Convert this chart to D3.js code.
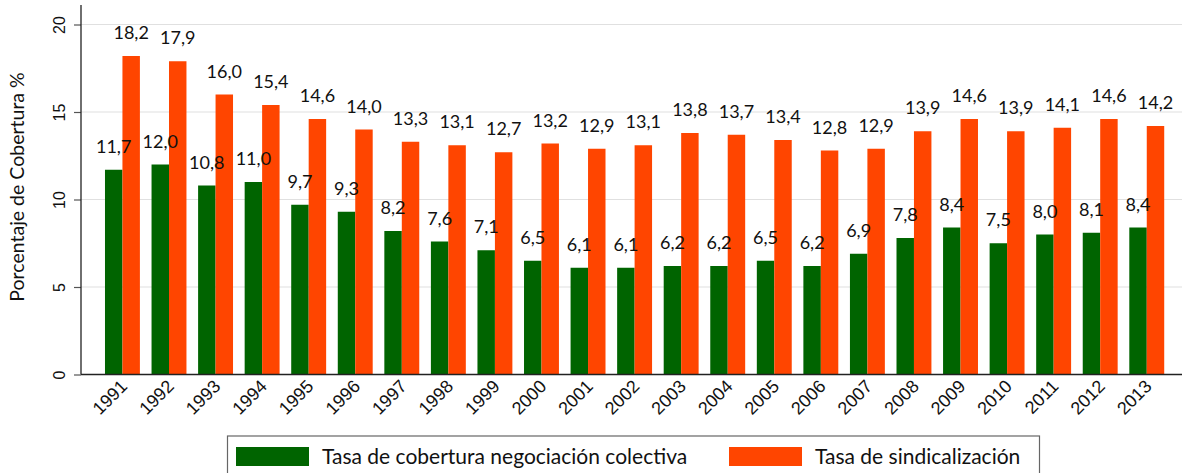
<!DOCTYPE html>
<html><head><meta charset="utf-8">
<script src="https://cdn.jsdelivr.net/npm/d3@7"></script>
<style>body{margin:0;background:#fff}svg{display:block;font-family:Lato,"Open Sans",sans-serif}</style>
</head><body>
<svg id="c" width="1182" height="473"></svg>
<script>
const years = ["1991","1992","1993","1994","1995","1996","1997","1998","1999","2000","2001","2002","2003","2004","2005","2006","2007","2008","2009","2010","2011","2012","2013"];
const cobertura = [11.7,12.0,10.8,11.0,9.7,9.3,8.2,7.6,7.1,6.5,6.1,6.1,6.2,6.2,6.5,6.2,6.9,7.8,8.4,7.5,8.0,8.1,8.4];
const sindicalizacion = [18.2,17.9,16.0,15.4,14.6,14.0,13.3,13.1,12.7,13.2,12.9,13.1,13.8,13.7,13.4,12.8,12.9,13.9,14.6,13.9,14.1,14.6,14.2];
const yTicks = [0,5,10,15,20];
const seriesNames = ["Tasa de cobertura negociación colectiva","Tasa de sindicalización"];
const colors = ["#006400","#FF4500"];

const svg = d3.select("#c");
const x0 = 81, yBase = 374.5;
const x = d3.scaleBand().domain(years).range([81.7, 1187.5]).paddingInner(0.25).paddingOuter(0.5);
const xs = d3.scaleBand().domain([0,1]).range([0, x.bandwidth()]);
const y = d3.scaleLinear().domain([0,20]).range([yBase, 24.5]);
const fmt = v => d3.format(".1f")(v).replace(".", ",");

// grid
svg.append("g").selectAll("line").data(yTicks.filter(t=>t>0)).join("line")
  .attr("x1", x0).attr("x2", 1182).attr("y1", d=>y(d)).attr("y2", d=>y(d))
  .attr("stroke", "#e0e0e0").attr("stroke-width", 1.2);

// y axis
const ya = svg.append("g").attr("transform", `translate(${x0},0)`)
  .call(d3.axisLeft(y).tickValues(yTicks).tickSize(7).tickPadding(6));
ya.select(".domain").remove();
ya.selectAll(".tick line").attr("stroke", "#555").attr("stroke-width", 1.2);
ya.selectAll(".tick text").attr("font-size", 16).attr("fill", "#111")
  .attr("text-anchor", "middle").attr("x", 0).attr("y", 0).attr("dy", 0)
  .attr("transform", "translate(-16,0) rotate(-90)");
svg.append("line").attr("x1", x0).attr("x2", x0).attr("y1", 5).attr("y2", yBase)
  .attr("stroke", "#222").attr("stroke-width", 1.3);

// bars
const series = [cobertura, sindicalizacion];
series.forEach((vals, si) => {
  svg.append("g").selectAll("rect").data(vals).join("rect")
    .attr("x", (d,i) => x(years[i]) + xs(si))
    .attr("width", xs.bandwidth())
    .attr("y", d => y(d)).attr("height", d => yBase - y(d))
    .attr("fill", colors[si]);
});
series.forEach((vals, si) => {
  svg.append("g").selectAll("text").data(vals).join("text")
    .attr("x", (d,i) => x(years[i]) + xs(si) + xs.bandwidth()/2)
    .attr("y", d => y(d) - 17)
    .attr("text-anchor", "middle").attr("font-size", 18).attr("fill", "#111")
    .text(fmt);
});

// x axis
const xa = svg.append("g").attr("transform", `translate(0,${yBase})`)
  .call(d3.axisBottom(x).tickSize(0).tickPadding(0));
xa.select(".domain").remove();
xa.selectAll(".tick text").attr("font-size", 18).attr("fill", "#111")
  .attr("text-anchor", "end").attr("dy", 0).attr("y", 0)
  .attr("transform", "translate(6,13) rotate(-45)");
svg.append("line").attr("x1", x0).attr("x2", 1182).attr("y1", yBase).attr("y2", yBase)
  .attr("stroke", "#222").attr("stroke-width", 1.3);

// y title
svg.append("text").attr("transform", "translate(24,187) rotate(-90)")
  .attr("text-anchor", "middle").attr("font-size", 19.5).attr("fill", "#111")
  .text("Porcentaje de Cobertura %");

// legend
const lg = svg.append("g");
lg.append("rect").attr("x", 227.5).attr("y", 436).attr("width", 812).attr("height", 60)
  .attr("fill", "#fff").attr("stroke", "#666").attr("stroke-width", 1.2);
const lx = [236, 729];
seriesNames.forEach((n, i) => {
  lg.append("rect").attr("x", lx[i]).attr("y", 447).attr("width", 73).attr("height", 19).attr("fill", colors[i]);
  lg.append("text").attr("x", lx[i] + 86).attr("y", 464).attr("font-size", 21).attr("fill", "#111").text(n);
});
</script>
</body></html>
